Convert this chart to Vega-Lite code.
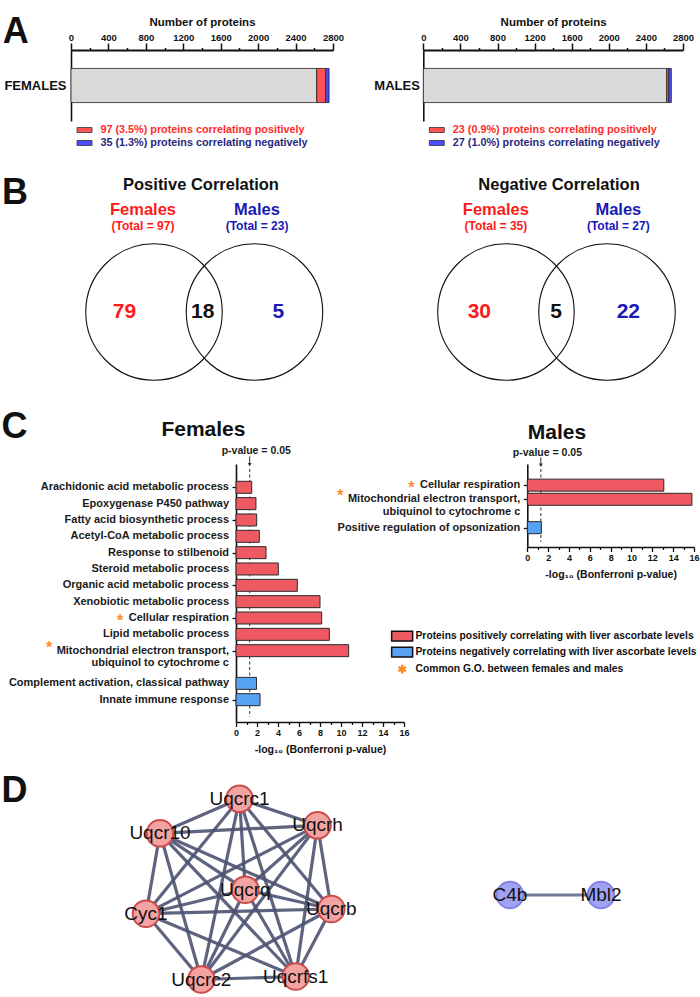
{
  "$schema": "https://vega.github.io/schema/vega-lite/v6.json",
  "background": "white",
  "padding": 0,
  "spacing": 0,
  "bounds": "flush",
  "resolve": {
    "scale": {"x": "independent", "y": "independent", "fill": "independent", "stroke": "independent"},
    "legend": {"fill": "independent", "stroke": "independent"},
    "axis": {"x": "independent", "y": "independent"}
  },
  "config": {
    "view": {"stroke": null},
    "font": "Liberation Sans",
    "axis": {"domainColor": "#111", "tickColor": "#111", "labelColor": "#111", "titleColor": "#111", "labelFontWeight": "bold", "titleFontWeight": "bold", "grid": false}
  },
  "datasets": {
    "panelA": [
      {"sex": "FEMALES", "cat": "none", "n": 2626, "ord": 1},
      {"sex": "FEMALES", "cat": "pos", "n": 97, "ord": 2},
      {"sex": "FEMALES", "cat": "neg", "n": 35, "ord": 3},
      {"sex": "MALES", "cat": "none", "n": 2624, "ord": 1},
      {"sex": "MALES", "cat": "pos", "n": 23, "ord": 2},
      {"sex": "MALES", "cat": "neg", "n": 27, "ord": 3}
    ],
    "goF": [
      {"term": "Arachidonic acid metabolic process", "pos": 1, "val": 1.5, "dir": "pos"},
      {"term": "Epoxygenase P450 pathway", "pos": 2, "val": 1.9, "dir": "pos"},
      {"term": "Fatty acid biosynthetic process", "pos": 3, "val": 1.97, "dir": "pos"},
      {"term": "Acetyl-CoA metabolic process", "pos": 4, "val": 2.22, "dir": "pos"},
      {"term": "Response to stilbenoid", "pos": 5, "val": 2.86, "dir": "pos"},
      {"term": "Steroid metabolic process", "pos": 6, "val": 4.03, "dir": "pos"},
      {"term": "Organic acid metabolic process", "pos": 7, "val": 5.84, "dir": "pos"},
      {"term": "Xenobiotic metabolic process", "pos": 8, "val": 8.0, "dir": "pos"},
      {"term": "Cellular respiration", "pos": 9, "val": 8.16, "dir": "pos"},
      {"term": "Lipid metabolic process", "pos": 10, "val": 8.89, "dir": "pos"},
      {"term": "Mitochondrial electron transport,\nubiquinol to cytochrome c", "pos": 11, "val": 10.73, "dir": "pos"},
      {"term": "Complement activation, classical pathway", "pos": 13, "val": 1.95, "dir": "neg"},
      {"term": "Innate immune response", "pos": 14, "val": 2.29, "dir": "neg"}
    ],
    "goM": [
      {"term": "Cellular respiration", "pos": 1, "val": 13.1, "dir": "pos"},
      {"term": "Mitochondrial electron transport,\nubiquinol to cytochrome c", "pos": 2, "val": 15.8, "dir": "pos"},
      {"term": "Positive regulation of opsonization", "pos": 4, "val": 1.35, "dir": "neg"}
    ],
    "vennCircles": [
      {"cx": 2.0, "cy": 1.974},
      {"cx": 3.305, "cy": 1.974},
      {"cx": 6.571, "cy": 1.974},
      {"cx": 7.883, "cy": 1.974}
    ],
    "vennText": [
      {"role": "letter", "label": "B", "x": 0.027, "y": 3.377},
      {"role": "letter", "label": "C", "x": 0.02, "y": 0.338},
      {"role": "title", "label": "Positive Correlation", "x": 2.61, "y": 3.617},
      {"role": "name", "sex": "Females", "label": "Females", "x": 1.857, "y": 3.30},
      {"role": "total", "sex": "Females", "label": "(Total = 97)", "x": 1.857, "y": 3.095},
      {"role": "name", "sex": "Males", "label": "Males", "x": 3.338, "y": 3.30},
      {"role": "total", "sex": "Males", "label": "(Total = 23)", "x": 3.338, "y": 3.095},
      {"role": "count", "sex": "Females", "label": "79", "x": 1.617, "y": 1.969},
      {"role": "count", "sex": "Both", "label": "18", "x": 2.632, "y": 1.969},
      {"role": "count", "sex": "Males", "label": "5", "x": 3.615, "y": 1.969},
      {"role": "title", "label": "Negative Correlation", "x": 7.26, "y": 3.617},
      {"role": "name", "sex": "Females", "label": "Females", "x": 6.44, "y": 3.30},
      {"role": "total", "sex": "Females", "label": "(Total = 35)", "x": 6.44, "y": 3.095},
      {"role": "name", "sex": "Males", "label": "Males", "x": 8.03, "y": 3.30},
      {"role": "total", "sex": "Males", "label": "(Total = 27)", "x": 8.03, "y": 3.095},
      {"role": "count", "sex": "Females", "label": "30", "x": 6.225, "y": 1.969},
      {"role": "count", "sex": "Both", "label": "5", "x": 7.221, "y": 1.969},
      {"role": "count", "sex": "Males", "label": "22", "x": 8.16, "y": 1.969}
    ],
    "nodes": [
      {"id": "Uqcrc1", "x": 2.395, "y": 0.768, "grp": "III"},
      {"id": "Uqcrh", "x": 3.175, "y": 1.033, "grp": "III"},
      {"id": "Uqcr10", "x": 1.6, "y": 1.113, "grp": "III"},
      {"id": "Uqcrq", "x": 2.453, "y": 1.677, "grp": "III"},
      {"id": "Cyc1", "x": 1.46, "y": 1.917, "grp": "III"},
      {"id": "Uqcrb", "x": 3.313, "y": 1.87, "grp": "III"},
      {"id": "Uqcrc2", "x": 2.013, "y": 2.575, "grp": "III"},
      {"id": "Uqcrfs1", "x": 2.957, "y": 2.545, "grp": "III"},
      {"id": "C4b", "x": 5.1, "y": 1.73, "grp": "comp"},
      {"id": "Mbl2", "x": 6.01, "y": 1.73, "grp": "comp"}
    ],
    "edges": [
      {"s": "Uqcrc1", "t": "Uqcrh"}, {"s": "Uqcrc1", "t": "Uqcr10"}, {"s": "Uqcrc1", "t": "Uqcrq"}, {"s": "Uqcrc1", "t": "Cyc1"},
      {"s": "Uqcrc1", "t": "Uqcrb"}, {"s": "Uqcrc1", "t": "Uqcrc2"}, {"s": "Uqcrc1", "t": "Uqcrfs1"},
      {"s": "Uqcrh", "t": "Uqcr10"}, {"s": "Uqcrh", "t": "Uqcrq"}, {"s": "Uqcrh", "t": "Cyc1"}, {"s": "Uqcrh", "t": "Uqcrb"},
      {"s": "Uqcrh", "t": "Uqcrc2"}, {"s": "Uqcrh", "t": "Uqcrfs1"},
      {"s": "Uqcr10", "t": "Uqcrq"}, {"s": "Uqcr10", "t": "Cyc1"}, {"s": "Uqcr10", "t": "Uqcrb"}, {"s": "Uqcr10", "t": "Uqcrc2"},
      {"s": "Uqcr10", "t": "Uqcrfs1"},
      {"s": "Uqcrq", "t": "Cyc1"}, {"s": "Uqcrq", "t": "Uqcrb"}, {"s": "Uqcrq", "t": "Uqcrc2"}, {"s": "Uqcrq", "t": "Uqcrfs1"},
      {"s": "Cyc1", "t": "Uqcrb"}, {"s": "Cyc1", "t": "Uqcrc2"}, {"s": "Cyc1", "t": "Uqcrfs1"},
      {"s": "Uqcrb", "t": "Uqcrc2"}, {"s": "Uqcrb", "t": "Uqcrfs1"},
      {"s": "Uqcrc2", "t": "Uqcrfs1"},
      {"s": "C4b", "t": "Mbl2"}
    ]
  },
  "vconcat": [
    {
      "width": 700, "height": 50,
      "data": {"values": [{"label": "A", "x": 0.004, "y": 0.15}]},
      "mark": {"type": "text", "align": "left", "baseline": "alphabetic", "fontSize": 36, "fontWeight": "bold", "fill": "#111"},
      "encoding": {
        "x": {"field": "x", "type": "quantitative", "scale": {"domain": [0, 1], "nice": false}, "axis": null},
        "y": {"field": "y", "type": "quantitative", "scale": {"domain": [0, 1], "nice": false}, "axis": null},
        "text": {"field": "label"}
      }
    },
    {
      "width": 700, "height": 71,
      "data": {"name": "panelA"},
      "resolve": {"scale": {"x": "independent", "y": "independent", "fill": "independent"}, "axis": {"x": "independent", "y": "independent"}, "legend": {"fill": "independent"}},
      "layer": [
        {
          "transform": [{"filter": "datum.sex == 'FEMALES'"}],
          "mark": {"type": "bar", "stroke": "#222", "strokeWidth": 0.8},
          "encoding": {
            "y": {"field": "sex", "type": "nominal", "scale": {"paddingInner": 0, "paddingOuter": 0.54},
                  "axis": {"orient": "left", "offset": -71, "title": null, "ticks": false, "labelPadding": 5, "labelFontSize": 13, "domainWidth": 1.6, "labelAngle": 0}},
            "x": {"field": "n", "type": "quantitative", "stack": "zero", "scale": {"domain": [0, 2800], "range": [71, 333], "nice": false},
                  "axis": {"orient": "top", "values": [0, 200, 400, 600, 800, 1000, 1200, 1400, 1600, 1800, 2000, 2200, 2400, 2600, 2800],
                           "format": "d", "labelExpr": "datum.value % 400 == 0 ? datum.label : ''",
                           "tickSize": {"condition": {"test": "datum.value % 400 != 0", "value": 2.5}, "value": 7},
                           "tickWidth": 1.5, "domainWidth": 1.8, "labelPadding": 1, "labelFontSize": 9.5, "labelFlush": false, "labelOverlap": false,
                           "title": "Number of proteins", "titleFontSize": 11.5, "titlePadding": 5}},
            "fill": {"field": "cat", "type": "nominal", "scale": {"domain": ["pos", "neg", "none"], "range": ["#ff5252", "#4d4dff", "#d9d9d9"]},
                     "legend": {"values": ["pos", "neg"], "title": null, "orient": "none", "legendX": 79, "legendY": 74.5, "padding": 0, "offset": 0,
                                "symbolType": "M-1.5,-0.5H1.5V0.5H-1.5Z", "symbolSize": 100, "symbolStrokeColor": "#333", "symbolStrokeWidth": 0.8,
                                "labelFontSize": 10.8, "labelFontWeight": "bold", "labelOffset": 10.5, "rowPadding": 1, "labelLimit": 400,
                                "labelExpr": "datum.value == 'pos' ? '97 (3.5%) proteins correlating positively' : '35 (1.3%) proteins correlating negatively'",
                                "encode": {"labels": {"update": {"fill": {"signal": "datum.value == 'pos' ? '#ff2b2b' : '#28287e'"}}},
                                           "symbols": {"update": {"stroke": {"value": "#333"}, "strokeWidth": {"value": 0.8}}}}}},
            "order": {"field": "ord", "type": "quantitative"}
          }
        },
        {
          "transform": [{"filter": "datum.sex == 'MALES'"}],
          "mark": {"type": "bar", "stroke": "#222", "strokeWidth": 0.8},
          "encoding": {
            "y": {"field": "sex", "type": "nominal", "scale": {"paddingInner": 0, "paddingOuter": 0.54},
                  "axis": {"orient": "left", "offset": -423.3, "title": null, "ticks": false, "labelPadding": 4, "labelFontSize": 13, "domainWidth": 1.6, "labelAngle": 0}},
            "x": {"field": "n", "type": "quantitative", "stack": "zero", "scale": {"domain": [0, 2800], "range": [423.3, 683], "nice": false},
                  "axis": {"orient": "top", "values": [0, 200, 400, 600, 800, 1000, 1200, 1400, 1600, 1800, 2000, 2200, 2400, 2600, 2800],
                           "format": "d", "labelExpr": "datum.value % 400 == 0 ? datum.label : ''",
                           "tickSize": {"condition": {"test": "datum.value % 400 != 0", "value": 2.5}, "value": 7},
                           "tickWidth": 1.5, "domainWidth": 1.8, "labelPadding": 1, "labelFontSize": 9.5, "labelFlush": false, "labelOverlap": false,
                           "title": "Number of proteins", "titleFontSize": 11.5, "titlePadding": 5}},
            "fill": {"field": "cat", "type": "nominal", "scale": {"domain": ["pos", "neg", "none"], "range": ["#ff5252", "#4d4dff", "#d9d9d9"]},
                     "legend": {"values": ["pos", "neg"], "title": null, "orient": "none", "legendX": 431.3, "legendY": 74.5, "padding": 0, "offset": 0,
                                "symbolType": "M-1.5,-0.5H1.5V0.5H-1.5Z", "symbolSize": 100, "symbolStrokeColor": "#333", "symbolStrokeWidth": 0.8,
                                "labelFontSize": 10.8, "labelFontWeight": "bold", "labelOffset": 10.5, "rowPadding": 1, "labelLimit": 400,
                                "labelExpr": "datum.value == 'pos' ? '23 (0.9%) proteins correlating positively' : '27 (1.0%) proteins correlating negatively'",
                                "encode": {"labels": {"update": {"fill": {"signal": "datum.value == 'pos' ? '#ff2b2b' : '#28287e'"}}},
                                           "symbols": {"update": {"stroke": {"value": "#333"}, "strokeWidth": {"value": 0.8}}}}}},
            "order": {"field": "ord", "type": "quantitative"}
          }
        }
      ]
    },
    {
      "width": 700, "height": 343,
      "layer": [
        {"data": {"name": "vennCircles"},
         "mark": {"type": "point", "shape": "circle", "filled": false, "size": 18627, "stroke": "#111", "strokeWidth": 1.1, "opacity": 1},
         "encoding": {
           "x": {"field": "cx", "type": "quantitative", "scale": {"domain": [0, 9.0909], "nice": false, "zero": false}, "axis": null},
           "y": {"field": "cy", "type": "quantitative", "scale": {"domain": [0, 4.4545], "nice": false, "zero": false}, "axis": null}
         }},
        {"data": {"name": "vennText"}, "transform": [{"filter": "datum.role == 'letter'"}],
         "mark": {"type": "text", "align": "left", "baseline": "alphabetic", "fontSize": 36, "fontWeight": "bold", "fill": "#111"},
         "encoding": {"x": {"field": "x", "type": "quantitative"}, "y": {"field": "y", "type": "quantitative"}, "text": {"field": "label"}}},
        {"data": {"name": "vennText"}, "transform": [{"filter": "datum.role == 'title'"}],
         "mark": {"type": "text", "align": "center", "baseline": "middle", "fontSize": 16.5, "fontWeight": "bold", "fill": "#111"},
         "encoding": {"x": {"field": "x", "type": "quantitative"}, "y": {"field": "y", "type": "quantitative"}, "text": {"field": "label"}}},
        {"data": {"name": "vennText"}, "transform": [{"filter": "datum.role == 'name'"}],
         "mark": {"type": "text", "align": "center", "baseline": "middle", "fontSize": 16.5, "fontWeight": "bold"},
         "encoding": {"x": {"field": "x", "type": "quantitative"}, "y": {"field": "y", "type": "quantitative"}, "text": {"field": "label"},
                      "fill": {"field": "sex", "type": "nominal", "scale": {"domain": ["Females", "Males", "Both"], "range": ["#ff1a1a", "#1a1ab5", "#111111"]}, "legend": null}}},
        {"data": {"name": "vennText"}, "transform": [{"filter": "datum.role == 'total'"}],
         "mark": {"type": "text", "align": "center", "baseline": "middle", "fontSize": 12, "fontWeight": "bold"},
         "encoding": {"x": {"field": "x", "type": "quantitative"}, "y": {"field": "y", "type": "quantitative"}, "text": {"field": "label"},
                      "fill": {"field": "sex", "type": "nominal", "legend": null}}},
        {"data": {"name": "vennText"}, "transform": [{"filter": "datum.role == 'count'"}],
         "mark": {"type": "text", "align": "center", "baseline": "middle", "fontSize": 21, "fontWeight": "bold"},
         "encoding": {"x": {"field": "x", "type": "quantitative"}, "y": {"field": "y", "type": "quantitative"}, "text": {"field": "label"},
                      "fill": {"field": "sex", "type": "nominal", "legend": null}}}
      ]
    },
    {
      "width": 700, "height": 258,
      "resolve": {"scale": {"x": "independent", "y": "independent", "fill": "independent"}, "axis": {"x": "independent", "y": "independent"}, "legend": {"fill": "independent"}},
      "layer": [
        {
          "layer": [
            {"data": {"values": [{"thr": 1.301}]},
             "mark": {"type": "rule", "strokeDash": [3, 2.5], "color": "#444", "strokeWidth": 1.1},
             "encoding": {
               "x": {"field": "thr", "type": "quantitative", "scale": {"domain": [0, 16], "range": [236, 404], "nice": false},
                     "axis": {"orient": "bottom", "values": [0, 1, 2, 3, 4, 5, 6, 7, 8, 9, 10, 11, 12, 13, 14, 15, 16],
                              "labelExpr": "datum.value % 2 == 0 ? datum.label : ''",
                              "tickSize": {"condition": {"test": "datum.value % 2 == 1", "value": 2.5}, "value": 4.5},
                              "tickWidth": 1.3, "domainWidth": 1.6, "labelFontSize": 9, "labelPadding": 2, "labelFlush": false, "labelOverlap": false,
                              "title": "-log₁₀ (Bonferroni p-value)", "titleFontSize": 10.5, "titlePadding": 7}},
               "y": {"datum": -0.12, "type": "quantitative", "scale": {"domain": [-0.12, 15.06], "range": [0, 258], "nice": false, "zero": false},
                     "axis": {"orient": "left", "offset": -236, "values": [1, 2, 3, 4, 5, 6, 7, 8, 9, 10, 11, 13, 14], "labels": false, "title": null, "tickSize": 4, "tickWidth": 1.3, "domainWidth": 1.6}},
               "y2": {"datum": 15.06}
             }},
            {"data": {"name": "goF"},
             "mark": {"type": "bar", "orient": "horizontal", "height": 12, "stroke": "#2a2a2a", "strokeWidth": 1},
             "encoding": {
               "x": {"field": "val", "type": "quantitative"},
               "y": {"field": "pos", "type": "quantitative"},
               "fill": {"field": "dir", "type": "nominal", "scale": {"domain": ["pos", "neg", "common"], "range": ["#ef5a62", "#58a2f4", "#ff8a2a"]}, "legend": null}
             }},
            {"data": {"name": "goF"},
             "mark": {"type": "text", "align": "right", "baseline": "middle", "dx": -7, "fontSize": 11, "fontWeight": "bold", "fill": "#1a1a1a", "lineBreak": "\n", "lineHeight": 12.5},
             "encoding": {"x": {"datum": 0}, "y": {"field": "pos", "type": "quantitative"}, "text": {"field": "term"}}},
            {"data": {"name": "goF"}, "transform": [{"filter": "datum.term == 'Cellular respiration'"}],
             "mark": {"type": "text", "text": "*", "align": "center", "baseline": "middle", "dx": -116, "dy": 3, "fontSize": 16, "fontWeight": "bold", "fill": "#ff8a2a"},
             "encoding": {"x": {"datum": 0}, "y": {"field": "pos", "type": "quantitative"}}},
            {"data": {"name": "goF"}, "transform": [{"filter": "indexof(datum.term, 'Mitochondrial') == 0"}],
             "mark": {"type": "text", "text": "*", "align": "center", "baseline": "middle", "dx": -187, "dy": -3, "fontSize": 16, "fontWeight": "bold", "fill": "#ff8a2a"},
             "encoding": {"x": {"datum": 0}, "y": {"field": "pos", "type": "quantitative"}}},
            {"data": {"values": [{"thr": 1.301}]},
             "mark": {"type": "text", "text": "p-value = 0.05", "align": "left", "baseline": "middle", "dx": -28, "fontSize": 10.5, "fontWeight": "bold", "fill": "#1a1a1a"},
             "encoding": {"x": {"field": "thr", "type": "quantitative"}, "y": {"datum": -1.2}}},
            {"data": {"values": [{"thr": 1.301}]},
             "mark": {"type": "rule", "color": "#333", "strokeWidth": 1},
             "encoding": {"x": {"field": "thr", "type": "quantitative"}, "y": {"datum": -0.9}, "y2": {"datum": -0.42}}},
            {"data": {"values": [{"thr": 1.301}]},
             "mark": {"type": "point", "shape": "triangle-down", "size": 16, "filled": true, "color": "#333", "opacity": 1},
             "encoding": {"x": {"field": "thr", "type": "quantitative"}, "y": {"datum": -0.38}}},
            {"data": {"values": [{"label": "Females", "x": -3.1, "y": -2.12}]},
             "mark": {"type": "text", "align": "center", "baseline": "alphabetic", "fontSize": 21, "fontWeight": "bold", "fill": "#111"},
             "encoding": {"x": {"field": "x", "type": "quantitative"}, "y": {"field": "y", "type": "quantitative"}, "text": {"field": "label"}}}
          ]
        },
        {
          "layer": [
            {"data": {"values": [{"thr": 1.301}]},
             "mark": {"type": "rule", "strokeDash": [3, 2.5], "color": "#444", "strokeWidth": 1.1},
             "encoding": {
               "x": {"field": "thr", "type": "quantitative", "scale": {"domain": [0, 16], "range": [527.3, 694], "nice": false},
                     "axis": {"orient": "bottom", "offset": -175, "values": [0, 1, 2, 3, 4, 5, 6, 7, 8, 9, 10, 11, 12, 13, 14, 15, 16],
                              "labelExpr": "datum.value % 2 == 0 ? datum.label : ''",
                              "tickSize": {"condition": {"test": "datum.value % 2 == 1", "value": 2.5}, "value": 4.5},
                              "tickWidth": 1.3, "domainWidth": 1.6, "labelFontSize": 9, "labelPadding": 2, "labelFlush": false, "labelOverlap": false,
                              "title": "-log₁₀ (Bonferroni p-value)", "titleFontSize": 10.5, "titlePadding": 7}},
               "y": {"datum": -0.137, "type": "quantitative", "scale": {"domain": [-0.137, 5.01], "range": [0, 83], "nice": false, "zero": false},
                     "axis": {"orient": "left", "offset": -527.3, "values": [1, 2, 4], "labels": false, "title": null, "tickSize": 4, "tickWidth": 1.3, "domainWidth": 1.6}},
               "y2": {"datum": 5.01}
             }},
            {"data": {"name": "goM"},
             "mark": {"type": "bar", "orient": "horizontal", "height": 12, "stroke": "#2a2a2a", "strokeWidth": 1},
             "encoding": {
               "x": {"field": "val", "type": "quantitative"},
               "y": {"field": "pos", "type": "quantitative"},
               "fill": {"field": "dir", "type": "nominal", "scale": {"domain": ["pos", "neg", "common"], "range": ["#ef5a62", "#58a2f4", "#ff8a2a"]},
                        "legend": {"values": ["pos", "neg", "common"], "title": null, "orient": "none", "legendX": 397, "legendY": 167, "padding": 0, "offset": 0,
                                   "symbolType": "M-1.5,-0.71H1.5V0.71H-1.5Z", "symbolSize": 196, "symbolStrokeColor": "#111", "symbolStrokeWidth": 1.5,
                                   "labelFontSize": 10.3, "labelFontWeight": "bold", "labelColor": "#111", "labelOffset": 8.2, "rowPadding": -1, "labelLimit": 400,
                                   "labelExpr": "datum.value == 'pos' ? 'Proteins positively correlating with liver ascorbate levels' : datum.value == 'neg' ? 'Proteins negatively correlating with liver ascorbate levels' : 'Common G.O. between females and males'",
                                   "encode": {"symbols": {"update": {
                                     "shape": {"signal": "datum.value == 'common' ? 'M0,-0.62V0.62M-0.54,-0.31L0.54,0.31M-0.54,0.31L0.54,-0.31' : 'M-1.5,-0.71H1.5V0.71H-1.5Z'"},
                                     "stroke": {"signal": "datum.value == 'common' ? '#ff8a2a' : '#111'"},
                                     "strokeWidth": {"signal": "datum.value == 'common' ? 2.4 : 1.5"}}}}}}
             }},
            {"data": {"name": "goM"},
             "mark": {"type": "text", "align": "right", "baseline": "middle", "dx": -7, "fontSize": 11, "fontWeight": "bold", "fill": "#1a1a1a", "lineBreak": "\n", "lineHeight": 12.5},
             "encoding": {"x": {"datum": 0}, "y": {"field": "pos", "type": "quantitative"}, "text": {"field": "term"}}},
            {"data": {"name": "goM"}, "transform": [{"filter": "datum.term == 'Cellular respiration'"}],
             "mark": {"type": "text", "text": "*", "align": "center", "baseline": "middle", "dx": -116, "dy": 3, "fontSize": 16, "fontWeight": "bold", "fill": "#ff8a2a"},
             "encoding": {"x": {"datum": 0}, "y": {"field": "pos", "type": "quantitative"}}},
            {"data": {"name": "goM"}, "transform": [{"filter": "indexof(datum.term, 'Mitochondrial') == 0"}],
             "mark": {"type": "text", "text": "*", "align": "center", "baseline": "middle", "dx": -187, "dy": -3, "fontSize": 16, "fontWeight": "bold", "fill": "#ff8a2a"},
             "encoding": {"x": {"datum": 0}, "y": {"field": "pos", "type": "quantitative"}}},
            {"data": {"values": [{"thr": 1.301}]},
             "mark": {"type": "text", "text": "p-value = 0.05", "align": "left", "baseline": "middle", "dx": -28, "fontSize": 10.5, "fontWeight": "bold", "fill": "#1a1a1a"},
             "encoding": {"x": {"field": "thr", "type": "quantitative"}, "y": {"datum": -1.27}}},
            {"data": {"values": [{"thr": 1.301}]},
             "mark": {"type": "rule", "color": "#333", "strokeWidth": 1},
             "encoding": {"x": {"field": "thr", "type": "quantitative"}, "y": {"datum": -0.96}, "y2": {"datum": -0.45}}},
            {"data": {"values": [{"thr": 1.301}]},
             "mark": {"type": "point", "shape": "triangle-down", "size": 16, "filled": true, "color": "#333", "opacity": 1},
             "encoding": {"x": {"field": "thr", "type": "quantitative"}, "y": {"datum": -0.4}}},
            {"data": {"values": [{"label": "Males", "x": 2.85, "y": -2.25}]},
             "mark": {"type": "text", "align": "center", "baseline": "alphabetic", "fontSize": 21, "fontWeight": "bold", "fill": "#111"},
             "encoding": {"x": {"field": "x", "type": "quantitative"}, "y": {"field": "y", "type": "quantitative"}, "text": {"field": "label"}}}
          ]
        }
      ]
    },
    {
      "width": 700, "height": 275,
      "layer": [
        {"data": {"name": "edges"},
         "transform": [
           {"lookup": "s", "from": {"data": {"name": "nodes"}, "key": "id", "fields": ["x", "y", "grp"]}, "as": ["x1", "y1", "g"]},
           {"lookup": "t", "from": {"data": {"name": "nodes"}, "key": "id", "fields": ["x", "y"]}, "as": ["x2", "y2"]},
           {"filter": "datum.g == 'III'"}
         ],
         "mark": {"type": "rule", "strokeWidth": 3.2, "color": "#4c5371", "opacity": 0.9},
         "encoding": {
           "x": {"field": "x1", "type": "quantitative", "scale": {"domain": [0, 7], "nice": false, "zero": false}, "axis": null},
           "y": {"field": "y1", "type": "quantitative", "scale": {"domain": [0, 2.75], "nice": false, "zero": false, "reverse": true}, "axis": null},
           "x2": {"field": "x2"}, "y2": {"field": "y2"}
         }},
        {"data": {"name": "edges"},
         "transform": [
           {"lookup": "s", "from": {"data": {"name": "nodes"}, "key": "id", "fields": ["x", "y", "grp"]}, "as": ["x1", "y1", "g"]},
           {"lookup": "t", "from": {"data": {"name": "nodes"}, "key": "id", "fields": ["x", "y"]}, "as": ["x2", "y2"]},
           {"filter": "datum.g == 'comp'"}
         ],
         "mark": {"type": "rule", "strokeWidth": 3, "color": "#6e7390", "opacity": 0.95},
         "encoding": {"x": {"field": "x1", "type": "quantitative"}, "y": {"field": "y1", "type": "quantitative"}, "x2": {"field": "x2"}, "y2": {"field": "y2"}}},
        {"data": {"name": "nodes"},
         "mark": {"type": "point", "shape": "circle", "filled": true, "size": 707, "strokeWidth": 2, "opacity": 1},
         "encoding": {
           "x": {"field": "x", "type": "quantitative"}, "y": {"field": "y", "type": "quantitative"},
           "fill": {"field": "grp", "type": "nominal", "scale": {"domain": ["III", "comp"], "range": ["#f4a3a3", "#a2a2f2"]}, "legend": null},
           "stroke": {"field": "grp", "type": "nominal", "scale": {"domain": ["III", "comp"], "range": ["#cc4c4c", "#8383e4"]}, "legend": null}
         }},
        {"data": {"name": "nodes"},
         "mark": {"type": "text", "align": "center", "baseline": "middle", "fontSize": 19, "fill": "#111"},
         "encoding": {"x": {"field": "x", "type": "quantitative"}, "y": {"field": "y", "type": "quantitative"}, "text": {"field": "id"}}},
        {"data": {"values": [{"label": "D", "x": 0.015, "y": 0.8}]},
         "mark": {"type": "text", "align": "left", "baseline": "alphabetic", "fontSize": 36, "fontWeight": "bold", "fill": "#111"},
         "encoding": {"x": {"field": "x", "type": "quantitative"}, "y": {"field": "y", "type": "quantitative"}, "text": {"field": "label"}}}
      ]
    }
  ]
}
